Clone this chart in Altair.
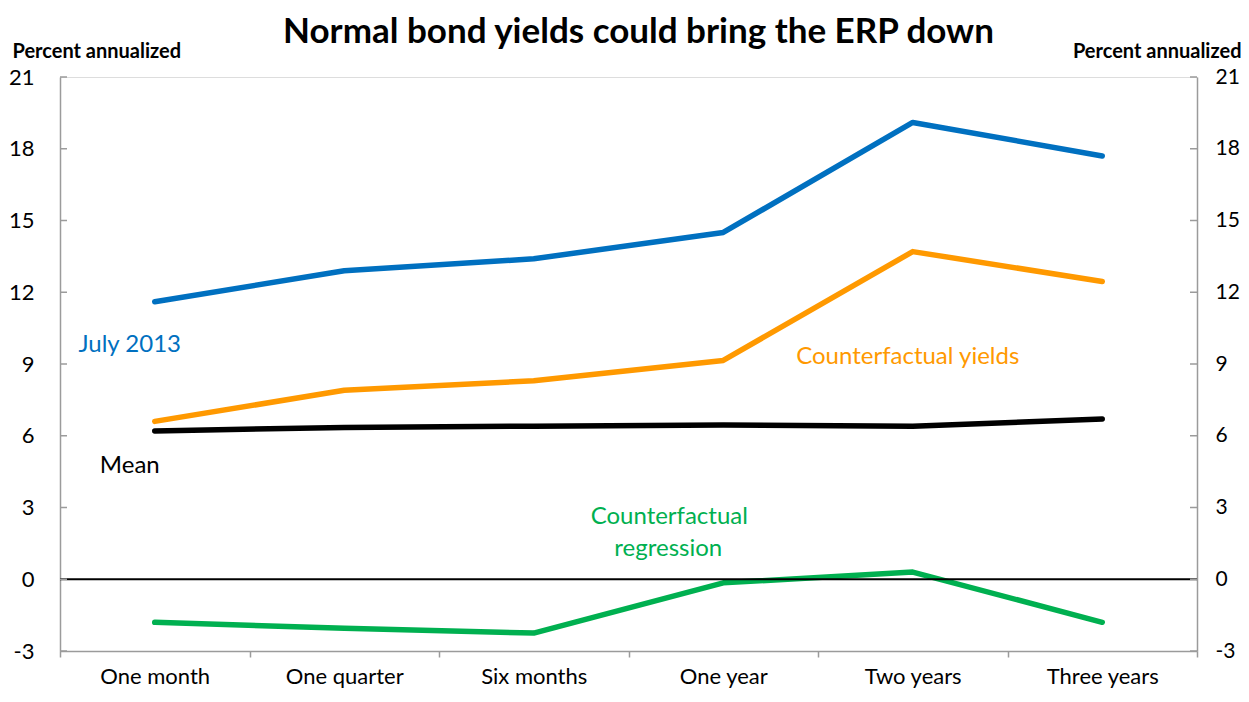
import altair as alt
import pandas as pd

categories = ["One month", "One quarter", "Six months", "One year", "Two years", "Three years"]
july_2013 = [11.6, 12.9, 13.4, 14.5, 19.1, 17.7]
cf_yields = [6.6, 7.9, 8.3, 9.15, 13.7, 12.45]
mean_vals = [6.2, 6.35, 6.4, 6.45, 6.4, 6.7]
cf_regression = [-1.8, -2.05, -2.25, -0.15, 0.3, -1.8]

series_names = ["Counterfactual regression", "Mean", "Counterfactual yields", "July 2013"]
series_colors = ["#00B050", "#000000", "#FF9900", "#0070C0"]
series_values = [cf_regression, mean_vals, cf_yields, july_2013]

y_ticks = [-3, 0, 3, 6, 9, 12, 15, 18, 21]

# annotation labels: text, anchor category, y value, horizontal shift, colour
ann_text = ["July 2013", "Counterfactual yields", "Mean", "Counterfactual", "regression"]
ann_cat = ["One month", "Two years", "One month", "One year", "One year"]
ann_val = [9.78, 9.28, 4.72, 2.59, 1.25]
ann_dx = [-25, -5, -25, -54, -55]
ann_color = ["#0070C0", "#FF9900", "#000000", "#00B050", "#00B050"]

FONT = "Lato"
GRAY = "#9B9B9B"
W, H = 1137, 574

rows = []
for name, vals in zip(series_names, series_values):
    for c, v in zip(categories, vals):
        rows.append({"series": name, "category": c, "value": v})
df = pd.DataFrame(rows)

xscale = alt.Scale(type="band", domain=categories, paddingInner=0, paddingOuter=0)
yscale = alt.Scale(domain=[-3, 21], nice=False, zero=False)

x_axis = alt.Axis(title=None, labelAngle=0, labelFontSize=22, labelColor="black", labelFont=FONT,
                  domainColor=GRAY, domainWidth=1.5, tickColor=GRAY, tickWidth=1.5, tickSize=6,
                  tickBand="extent", labelPadding=9, grid=False)

y_axis = alt.Axis(values=y_ticks, ticks=False, labelFontSize=22, labelPadding=26, labelFont=FONT,
                  labelColor="black", domainColor=GRAY, domainWidth=1.5, grid=False,
                  labelExpr="toString(datum.value)",
                  title="Percent annualized", titleAngle=0, titleX=-48, titleY=-20,
                  titleAlign="left", titleBaseline="alphabetic", titleFontSize=20,
                  titleFontWeight="bold", titleFont=FONT, titleColor="black")

x_enc = alt.X("category:N", scale=xscale, sort=categories, axis=x_axis)

lines = alt.Chart(df).mark_line(strokeWidth=5.5, strokeCap="round", strokeJoin="round").encode(
    x=x_enc,
    y=alt.Y("value:Q", scale=yscale, axis=y_axis),
    color=alt.Color("series:N", scale=alt.Scale(domain=series_names, range=series_colors), legend=None),
    detail="series:N",
)

zero_df = pd.DataFrame({"value": [0]})
zero = alt.Chart(zero_df).mark_rule(color="black", strokeWidth=2).encode(
    y=alt.Y("value:Q", scale=yscale, axis=y_axis)
)

tick_df = pd.DataFrame({"value": y_ticks})
left_ticks = alt.Chart(tick_df).mark_rule(color=GRAY, strokeWidth=1.5).encode(
    y=alt.Y("value:Q", scale=yscale, axis=y_axis), x=alt.value(0), x2=alt.value(7)
)

ann_layers = []
for t, c, v, dx, col in zip(ann_text, ann_cat, ann_val, ann_dx, ann_color):
    adf = pd.DataFrame({"text": [t], "category": [c], "value": [v]})
    ann_layers.append(
        alt.Chart(adf).mark_text(font=FONT, fontSize=24, color=col, dx=dx, align="center",
                                 baseline="middle").encode(
            x=x_enc,
            y=alt.Y("value:Q", scale=yscale, axis=y_axis),
            text="text:N",
        )
    )

left = alt.layer(lines, zero, left_ticks, *ann_layers)

right = alt.Chart(tick_df).mark_rule(color=GRAY, strokeWidth=1.5).encode(
    y=alt.Y("value:Q", scale=yscale,
            axis=alt.Axis(orient="right", values=y_ticks, ticks=False, labelFontSize=21, labelPadding=18,
                          labelFont=FONT, labelColor="black", domainColor=GRAY, domainWidth=1.5,
                          labelExpr="toString(datum.value)",
                          grid=False, title="Percent annualized", titleAngle=0, titleX=44, titleY=-20,
                          titleAlign="right", titleBaseline="alphabetic", titleFontSize=20,
                          titleFontWeight="bold", titleFont=FONT, titleColor="black")),
    x=alt.value(W - 7), x2=alt.value(W),
)

chart = alt.layer(left, right).resolve_scale(y="independent").properties(
    width=W, height=H,
    title=alt.TitleParams("Normal bond yields could bring the ERP down", font=FONT, fontSize=35,
                          fontWeight="bold", color="black", anchor="middle", dx=10, offset=-9),
    padding={"left": 52, "top": 69, "right": 44, "bottom": 43},
    autosize=alt.AutoSizeParams(type="none"),
).configure_view(stroke=GRAY, strokeWidth=1.5).configure(background="white")

chart.save("out.html", embed_options={"renderer": "svg", "actions": False})
